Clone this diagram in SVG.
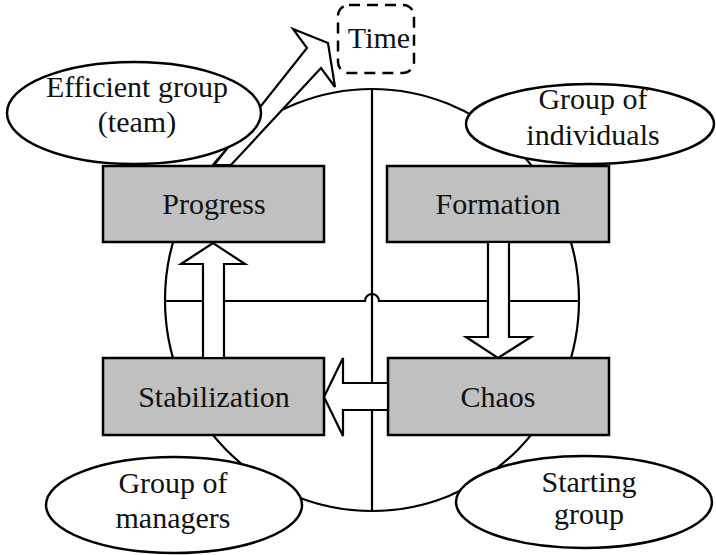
<svg xmlns="http://www.w3.org/2000/svg" width="716" height="555" viewBox="0 0 716 555">
<style>
.ln{fill:none;stroke:#000;stroke-width:2.2}
.box{fill:#c0c0c0;stroke:#000;stroke-width:2.5}
.arr{fill:#fff;stroke:#000;stroke-width:2.2;stroke-linejoin:miter}
.ell{fill:#fff;stroke:#000;stroke-width:2.5}
.t{font-family:'Liberation Serif','Times New Roman',serif;font-size:30px;fill:#111;text-anchor:middle}
</style>
<rect width="716" height="555" fill="#fff"/>
<g id="connectors">
<ellipse class="ln" cx="372" cy="300" rx="207" ry="211"/>
<line class="ln" x1="372" y1="89" x2="372" y2="511"/>
<path class="ln" d="M165,301 H365 A7,7 0 0 1 379,301 H579"/>
</g>
<g id="progress"><rect class="box" x="103" y="166" width="221" height="76"/><text class="t" x="214" y="214">Progress</text></g>
<g id="formation"><rect class="box" x="387" y="166" width="222" height="76"/><text class="t" x="498" y="214">Formation</text></g>
<g id="stabilization"><rect class="box" x="103" y="358" width="221" height="77"/><text class="t" x="214" y="407">Stabilization</text></g>
<g id="chaos"><rect class="box" x="388" y="358" width="221" height="77"/><text class="t" x="498" y="407">Chaos</text></g>
<g id="arrows">
<polygon class="arr" points="203,358 203,264 181,264 213,243 245,264 224,264 224,358"/>
<polygon class="arr" points="488,242 488,337 466,337 498,358 531,337 509,337 509,242"/>
<polygon class="arr" points="388,383 343,383 343,358 324,397 343,436 343,410 388,410"/>
<polygon class="arr" points="214,165 307,48 293,29 328,43 335,87 321,68 231,165"/>
</g>
<g id="efficient"><ellipse class="ell" cx="134" cy="113" rx="127" ry="51"/><text class="t" x="137" y="97">Efficient group</text><text class="t" x="137" y="132">(team)</text></g>
<g id="individuals"><ellipse class="ell" cx="590" cy="124" rx="124" ry="40"/><text class="t" x="593" y="109">Group of</text><text class="t" x="593" y="145">individuals</text></g>
<g id="managers"><ellipse class="ell" cx="174" cy="505" rx="128" ry="48"/><text class="t" x="173" y="493">Group of</text><text class="t" x="173" y="528">managers</text></g>
<g id="starting"><ellipse class="ell" cx="584" cy="502" rx="128" ry="46"/><text class="t" x="589" y="492">Starting</text><text class="t" x="589" y="524">group</text></g>
<g id="time"><rect x="338" y="5" width="76" height="68" rx="11" fill="#fff" stroke="#000" stroke-width="2.5" stroke-dasharray="11,7"/><text class="t" x="379" y="48">Time</text></g>
</svg>
